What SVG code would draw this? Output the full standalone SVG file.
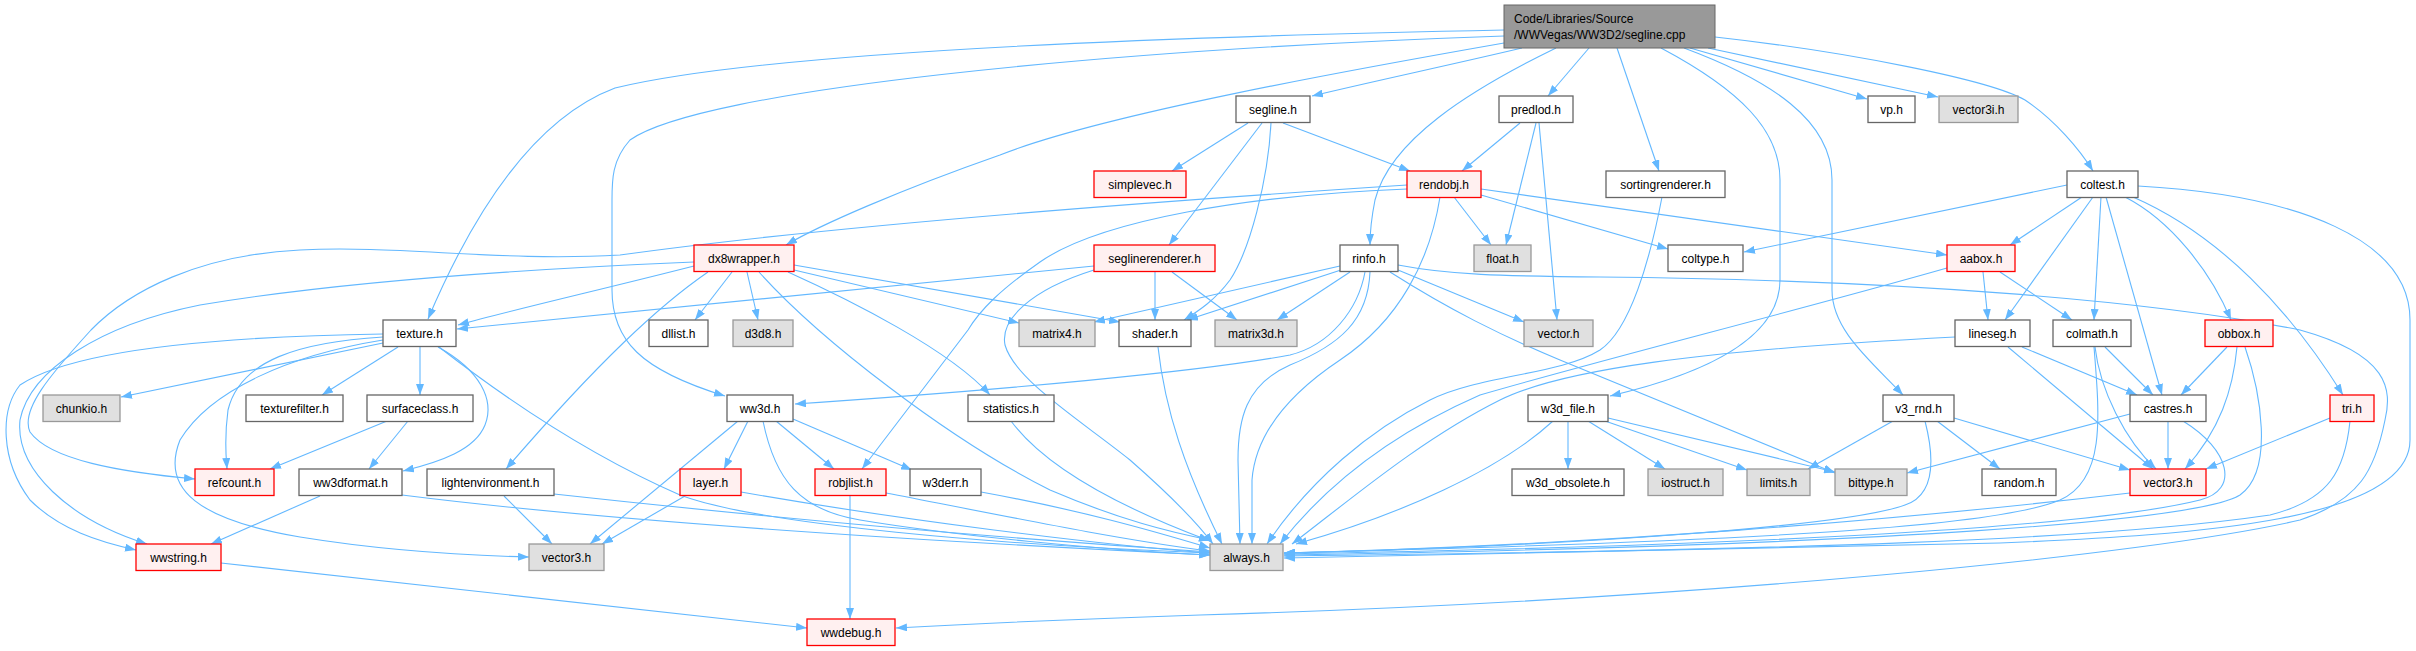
<svg xmlns="http://www.w3.org/2000/svg" width="2416" height="651" viewBox="0 0 2416 651">
<style>
.n rect{stroke-width:1.3}
.w rect{fill:#ffffff;stroke:#666666}
.r rect{fill:#fff0f0;stroke:#ff0000}
.g rect{fill:#e0e0e0;stroke:#999999}
.m rect{fill:#999999;stroke:#666666}
text{font-family:"Liberation Sans",Arial,sans-serif;font-size:12px;fill:#000000}
.n text{text-anchor:middle}
.m text{text-anchor:start}
#edges path{fill:none;stroke:#63b8ff;stroke-width:1.1;marker-end:url(#ah)}
</style>
<defs>
<marker id="ah" markerUnits="userSpaceOnUse" markerWidth="11" markerHeight="8" viewBox="0 0 11 8" refX="11" refY="4" orient="auto">
<path d="M0,0 L11,4 L0,8 z" fill="#63b8ff"/>
</marker>
</defs>
<rect width="2416" height="651" fill="#ffffff"/>
<g id="edges">
<!-- main -->
<path d="M1504,30 C1100,38 750,55 615,88 C530,120 470,220 428,319"/>
<path d="M1504,36 C1100,50 700,90 630,140 C612,160 612,180 612,200 L612,290 C612,340 640,370 725,396"/>
<path d="M1504,43 C1350,70 1100,115 1000,155 C900,190 820,225 786,245"/>
<path d="M1522,48 C1450,65 1370,82 1312,96"/>
<path d="M1556,48 C1470,90 1390,140 1375,200 C1371,220 1370,235 1370,245"/>
<path d="M1589,48 L1548,96"/>
<path d="M1617,48 L1659,171"/>
<path d="M1661,48 C1740,90 1780,130 1780,180 L1780,280 C1780,340 1700,375 1610,396"/>
<path d="M1684,48 C1770,80 1832,120 1832,180 L1832,290 C1832,330 1870,360 1903,395"/>
<path d="M1690,48 L1867,99"/>
<path d="M1708,48 L1938,97"/>
<path d="M1715,37 C1850,52 1990,80 2025,100 C2055,120 2080,150 2093,171"/>
<!-- segline.h -->
<path d="M1248,123 L1172,171"/>
<path d="M1262,123 L1169,245"/>
<path d="M1271,123 C1268,180 1250,250 1230,280 C1215,300 1200,310 1184,320"/>
<path d="M1283,123 L1410,171"/>
<!-- predlod.h -->
<path d="M1520,123 L1462,171"/>
<path d="M1536,123 L1506,245"/>
<path d="M1539,123 L1557,320"/>
<!-- rendobj.h -->
<path d="M1454,197 L1491,245"/>
<path d="M1481,195 L1668,249"/>
<path d="M1481,189 L1947,255"/>
<path d="M1407,185 C1100,205 800,230 620,255 C500,262 400,245 300,250 C200,255 130,290 91,330 C50,375 20,410 30,432 C50,460 120,472 195,479"/>
<path d="M1407,189 C1250,195 1100,220 1040,262 C1000,290 980,310 968,330 L862,469"/>
<path d="M1440,197 C1430,260 1400,320 1340,360 C1280,400 1255,440 1252,480 L1252,544"/>
<!-- sortingrenderer.h -->
<path d="M1662,197 C1650,260 1630,330 1600,350 C1560,375 1480,375 1430,400 C1370,430 1310,480 1267,544"/>
<!-- coltest.h -->
<path d="M2067,185 L1744,252"/>
<path d="M2082,197 L2010,245"/>
<path d="M2093,197 L2005,320"/>
<path d="M2101,197 L2094,320"/>
<path d="M2106,197 L2162,395"/>
<path d="M2125,197 C2170,220 2210,270 2231,320"/>
<path d="M2133,197 C2220,235 2290,310 2343,395"/>
<path d="M2138,186 C2300,195 2410,240 2410,320 L2410,440 C2410,520 2200,535 2000,543 C1700,550 1400,556 1284,558"/>
<!-- dx8wrapper.h -->
<path d="M694,266 C600,290 520,308 458,325"/>
<path d="M694,262 C550,268 350,280 200,305 C100,325 30,370 20,420 C15,470 70,520 147,544"/>
<path d="M708,272 C660,305 600,360 506,469"/>
<path d="M732,272 L695,320"/>
<path d="M747,272 L758,320"/>
<path d="M788,272 C850,300 950,350 990,395"/>
<path d="M759,272 C820,340 950,440 1050,490 C1120,520 1170,532 1210,540"/>
<path d="M794,270 L1019,323"/>
<path d="M794,265 L1120,322"/>
<!-- seglinerenderer.h -->
<path d="M1094,266 C900,285 700,305 457,329"/>
<path d="M1155,272 L1155,320"/>
<path d="M1172,272 L1237,320"/>
<path d="M1094,270 C1030,290 1000,320 1005,345 C1015,380 1080,420 1130,460 C1170,495 1195,520 1213,544"/>
<!-- rinfo.h -->
<path d="M1340,266 L1094,322"/>
<path d="M1341,270 L1187,320"/>
<path d="M1350,272 L1277,320"/>
<path d="M1398,270 L1524,322"/>
<path d="M1365,272 C1358,310 1330,345 1290,355 C1200,372 1000,390 795,404"/>
<path d="M1370,272 C1368,320 1340,345 1290,365 C1245,385 1238,420 1238,460 L1240,544"/>
<path d="M1390,272 C1450,310 1500,335 1560,360 L1835,473"/>
<path d="M1398,265 C1450,275 1500,276 1600,277 C1900,280 2150,300 2300,330 C2390,355 2392,390 2385,420 C2375,470 2360,500 2300,520 C2150,555 1700,600 1200,615 C1050,620 950,625 896,628"/>
<!-- aabox.h -->
<path d="M1983,272 L1988,320"/>
<path d="M2000,272 L2072,320"/>
<path d="M1947,268 C1800,310 1600,360 1480,395 C1400,430 1330,480 1280,544"/>
<!-- texture.h -->
<path d="M383,343 L121,397"/>
<path d="M398,347 L322,395"/>
<path d="M420,347 L420,395"/>
<path d="M383,337 C300,342 240,360 228,410 C224,440 226,455 227,469"/>
<path d="M438,347 C480,370 495,400 485,425 C475,450 440,462 403,471"/>
<path d="M383,340 C290,355 210,390 180,440 C160,490 200,520 300,537 C380,550 450,555 529,557"/>
<path d="M383,334 C250,336 80,345 20,385 C0,410 0,460 30,500 C60,530 100,542 136,550"/>
<path d="M439,347 C520,410 600,460 680,495 C760,525 1000,545 1210,553"/>
<!-- lineseg, colmath, obbox -->
<path d="M2022,347 L2137,395"/>
<path d="M2008,347 L2153,469"/>
<path d="M1955,337 C1700,350 1560,370 1500,400 C1420,440 1350,500 1292,544"/>
<path d="M2105,347 L2153,395"/>
<path d="M2095,347 C2100,390 2125,440 2156,469"/>
<path d="M2094,347 C2100,420 2105,480 2060,500 C2000,525 1800,540 1284,553"/>
<path d="M2227,347 L2181,395"/>
<path d="M2237,347 C2233,390 2220,430 2185,469"/>
<path d="M2245,347 C2260,390 2275,470 2240,495 C2200,520 1900,545 1284,555"/>
<!-- shader -->
<path d="M1158,347 C1165,410 1185,470 1222,544"/>
<!-- row 5 -->
<path d="M387,421 L270,469"/>
<path d="M408,421 L369,469"/>
<path d="M748,421 L724,469"/>
<path d="M776,421 L834,469"/>
<path d="M793,419 L912,470"/>
<path d="M738,421 L590,544"/>
<path d="M763,421 C775,480 800,510 860,520 C950,535 1100,550 1210,555"/>
<path d="M1011,421 C1040,460 1100,500 1210,541"/>
<path d="M1568,421 L1568,469"/>
<path d="M1588,421 L1665,469"/>
<path d="M1605,421 L1747,470"/>
<path d="M1608,418 L1835,472"/>
<path d="M1553,421 C1500,470 1400,515 1296,544"/>
<path d="M1893,421 L1808,469"/>
<path d="M1937,421 L2000,469"/>
<path d="M1954,418 L2130,470"/>
<path d="M1925,421 C1935,460 1935,495 1905,505 C1850,525 1600,545 1284,553"/>
<path d="M2168,421 L2168,469"/>
<path d="M2130,414 L1907,473"/>
<path d="M2183,421 C2230,450 2240,490 2200,500 C2100,525 1800,545 1284,554"/>
<path d="M2330,418 L2206,469"/>
<path d="M2350,421 C2345,470 2330,500 2270,515 C2100,540 1800,550 1284,556"/>
<!-- row 6 -->
<path d="M320,496 L211,544"/>
<path d="M402,495 C600,520 900,540 1210,555"/>
<path d="M504,496 L552,544"/>
<path d="M554,494 C700,510 950,535 1210,552"/>
<path d="M685,496 L602,544"/>
<path d="M741,492 C900,520 1100,545 1210,553"/>
<path d="M850,496 L850,619"/>
<path d="M886,493 C1000,515 1120,540 1210,551"/>
<path d="M981,492 C1080,510 1150,530 1210,548"/>
<path d="M2130,493 C1900,520 1600,545 1284,553"/>
<!-- row 7 -->
<path d="M221,563 L807,628"/>
</g>
<g id="node_main" class="m"><rect x="1504" y="5" width="211" height="43"/><text x="1514" y="22.5">Code/Libraries/Source</text><text x="1514" y="38.5">/WWVegas/WW3D2/segline.cpp</text></g>
<g id="node_segline" class="n w"><rect x="1236" y="96" width="74" height="26.5"/><text x="1273" y="113.5">segline.h</text></g>
<g id="node_predlod" class="n w"><rect x="1499" y="96" width="74" height="26.5"/><text x="1536" y="113.5">predlod.h</text></g>
<g id="node_vp" class="n w"><rect x="1868" y="96" width="47" height="26.5"/><text x="1891.5" y="113.5">vp.h</text></g>
<g id="node_vector3i" class="n g"><rect x="1939" y="96" width="79" height="26.5"/><text x="1978.5" y="113.5">vector3i.h</text></g>
<g id="node_simplevec" class="n r"><rect x="1094" y="171" width="92" height="26.5"/><text x="1140" y="188.5">simplevec.h</text></g>
<g id="node_rendobj" class="n r"><rect x="1407" y="171" width="74" height="26.5"/><text x="1444" y="188.5">rendobj.h</text></g>
<g id="node_sortingrenderer" class="n w"><rect x="1606" y="171" width="119" height="26.5"/><text x="1665.5" y="188.5">sortingrenderer.h</text></g>
<g id="node_coltest" class="n w"><rect x="2067" y="171" width="71" height="26.5"/><text x="2102.5" y="188.5">coltest.h</text></g>
<g id="node_dx8wrapper" class="n r"><rect x="694" y="245" width="100" height="26.5"/><text x="744" y="262.5">dx8wrapper.h</text></g>
<g id="node_seglinerenderer" class="n r"><rect x="1094" y="245" width="121" height="26.5"/><text x="1154.5" y="262.5">seglinerenderer.h</text></g>
<g id="node_rinfo" class="n w"><rect x="1340" y="245" width="58" height="26.5"/><text x="1369" y="262.5">rinfo.h</text></g>
<g id="node_float" class="n g"><rect x="1474" y="245" width="57" height="26.5"/><text x="1502.5" y="262.5">float.h</text></g>
<g id="node_coltype" class="n w"><rect x="1668" y="245" width="75" height="26.5"/><text x="1705.5" y="262.5">coltype.h</text></g>
<g id="node_aabox" class="n r"><rect x="1947" y="245" width="68" height="26.5"/><text x="1981" y="262.5">aabox.h</text></g>
<g id="node_texture" class="n w"><rect x="383" y="320" width="73" height="26.5"/><text x="419.5" y="337.5">texture.h</text></g>
<g id="node_dllist" class="n w"><rect x="649" y="320" width="59" height="26.5"/><text x="678.5" y="337.5">dllist.h</text></g>
<g id="node_d3d8" class="n g"><rect x="733" y="320" width="60" height="26.5"/><text x="763" y="337.5">d3d8.h</text></g>
<g id="node_matrix4" class="n g"><rect x="1019" y="320" width="76" height="26.5"/><text x="1057" y="337.5">matrix4.h</text></g>
<g id="node_shader" class="n w"><rect x="1119" y="320" width="72" height="26.5"/><text x="1155" y="337.5">shader.h</text></g>
<g id="node_matrix3d" class="n g"><rect x="1215" y="320" width="82" height="26.5"/><text x="1256" y="337.5">matrix3d.h</text></g>
<g id="node_vector" class="n g"><rect x="1524" y="320" width="69" height="26.5"/><text x="1558.5" y="337.5">vector.h</text></g>
<g id="node_lineseg" class="n w"><rect x="1955" y="320" width="75" height="26.5"/><text x="1992.5" y="337.5">lineseg.h</text></g>
<g id="node_colmath" class="n w"><rect x="2053" y="320" width="78" height="26.5"/><text x="2092" y="337.5">colmath.h</text></g>
<g id="node_obbox" class="n r"><rect x="2205" y="320" width="68" height="26.5"/><text x="2239" y="337.5">obbox.h</text></g>
<g id="node_chunkio" class="n g"><rect x="43" y="395" width="77" height="26.5"/><text x="81.5" y="412.5">chunkio.h</text></g>
<g id="node_texturefilter" class="n w"><rect x="246" y="395" width="97" height="26.5"/><text x="294.5" y="412.5">texturefilter.h</text></g>
<g id="node_surfaceclass" class="n w"><rect x="367" y="395" width="106" height="26.5"/><text x="420" y="412.5">surfaceclass.h</text></g>
<g id="node_ww3d" class="n w"><rect x="727" y="395" width="66" height="26.5"/><text x="760" y="412.5">ww3d.h</text></g>
<g id="node_statistics" class="n w"><rect x="968" y="395" width="86" height="26.5"/><text x="1011" y="412.5">statistics.h</text></g>
<g id="node_w3d_file" class="n w"><rect x="1528" y="395" width="80" height="26.5"/><text x="1568" y="412.5">w3d_file.h</text></g>
<g id="node_v3_rnd" class="n w"><rect x="1883" y="395" width="71" height="26.5"/><text x="1918.5" y="412.5">v3_rnd.h</text></g>
<g id="node_castres" class="n w"><rect x="2130" y="395" width="76" height="26.5"/><text x="2168" y="412.5">castres.h</text></g>
<g id="node_tri" class="n r"><rect x="2330" y="395" width="44" height="26.5"/><text x="2352" y="412.5">tri.h</text></g>
<g id="node_refcount" class="n r"><rect x="195" y="469" width="79" height="26.5"/><text x="234.5" y="486.5">refcount.h</text></g>
<g id="node_ww3dformat" class="n w"><rect x="299" y="469" width="103" height="26.5"/><text x="350.5" y="486.5">ww3dformat.h</text></g>
<g id="node_lightenvironment" class="n w"><rect x="427" y="469" width="127" height="26.5"/><text x="490.5" y="486.5">lightenvironment.h</text></g>
<g id="node_layer" class="n r"><rect x="680" y="469" width="61" height="26.5"/><text x="710.5" y="486.5">layer.h</text></g>
<g id="node_robjlist" class="n r"><rect x="815" y="469" width="71" height="26.5"/><text x="850.5" y="486.5">robjlist.h</text></g>
<g id="node_w3derr" class="n w"><rect x="910" y="469" width="71" height="26.5"/><text x="945.5" y="486.5">w3derr.h</text></g>
<g id="node_w3d_obsolete" class="n w"><rect x="1512" y="469" width="112" height="26.5"/><text x="1568" y="486.5">w3d_obsolete.h</text></g>
<g id="node_iostruct" class="n g"><rect x="1648" y="469" width="75" height="26.5"/><text x="1685.5" y="486.5">iostruct.h</text></g>
<g id="node_limits" class="n g"><rect x="1747" y="469" width="63" height="26.5"/><text x="1778.5" y="486.5">limits.h</text></g>
<g id="node_bittype" class="n g"><rect x="1835" y="469" width="72" height="26.5"/><text x="1871" y="486.5">bittype.h</text></g>
<g id="node_random" class="n w"><rect x="1982" y="469" width="74" height="26.5"/><text x="2019" y="486.5">random.h</text></g>
<g id="node_vector3_red" class="n r"><rect x="2130" y="469" width="76" height="26.5"/><text x="2168" y="486.5">vector3.h</text></g>
<g id="node_wwstring" class="n r"><rect x="136" y="544" width="85" height="26.5"/><text x="178.5" y="561.5">wwstring.h</text></g>
<g id="node_vector3_gray" class="n g"><rect x="529" y="544" width="75" height="26.5"/><text x="566.5" y="561.5">vector3.h</text></g>
<g id="node_always" class="n g"><rect x="1210" y="544" width="73" height="26.5"/><text x="1246.5" y="561.5">always.h</text></g>
<g id="node_wwdebug" class="n r"><rect x="807" y="619" width="88" height="26.5"/><text x="851" y="636.5">wwdebug.h</text></g>
</svg>
